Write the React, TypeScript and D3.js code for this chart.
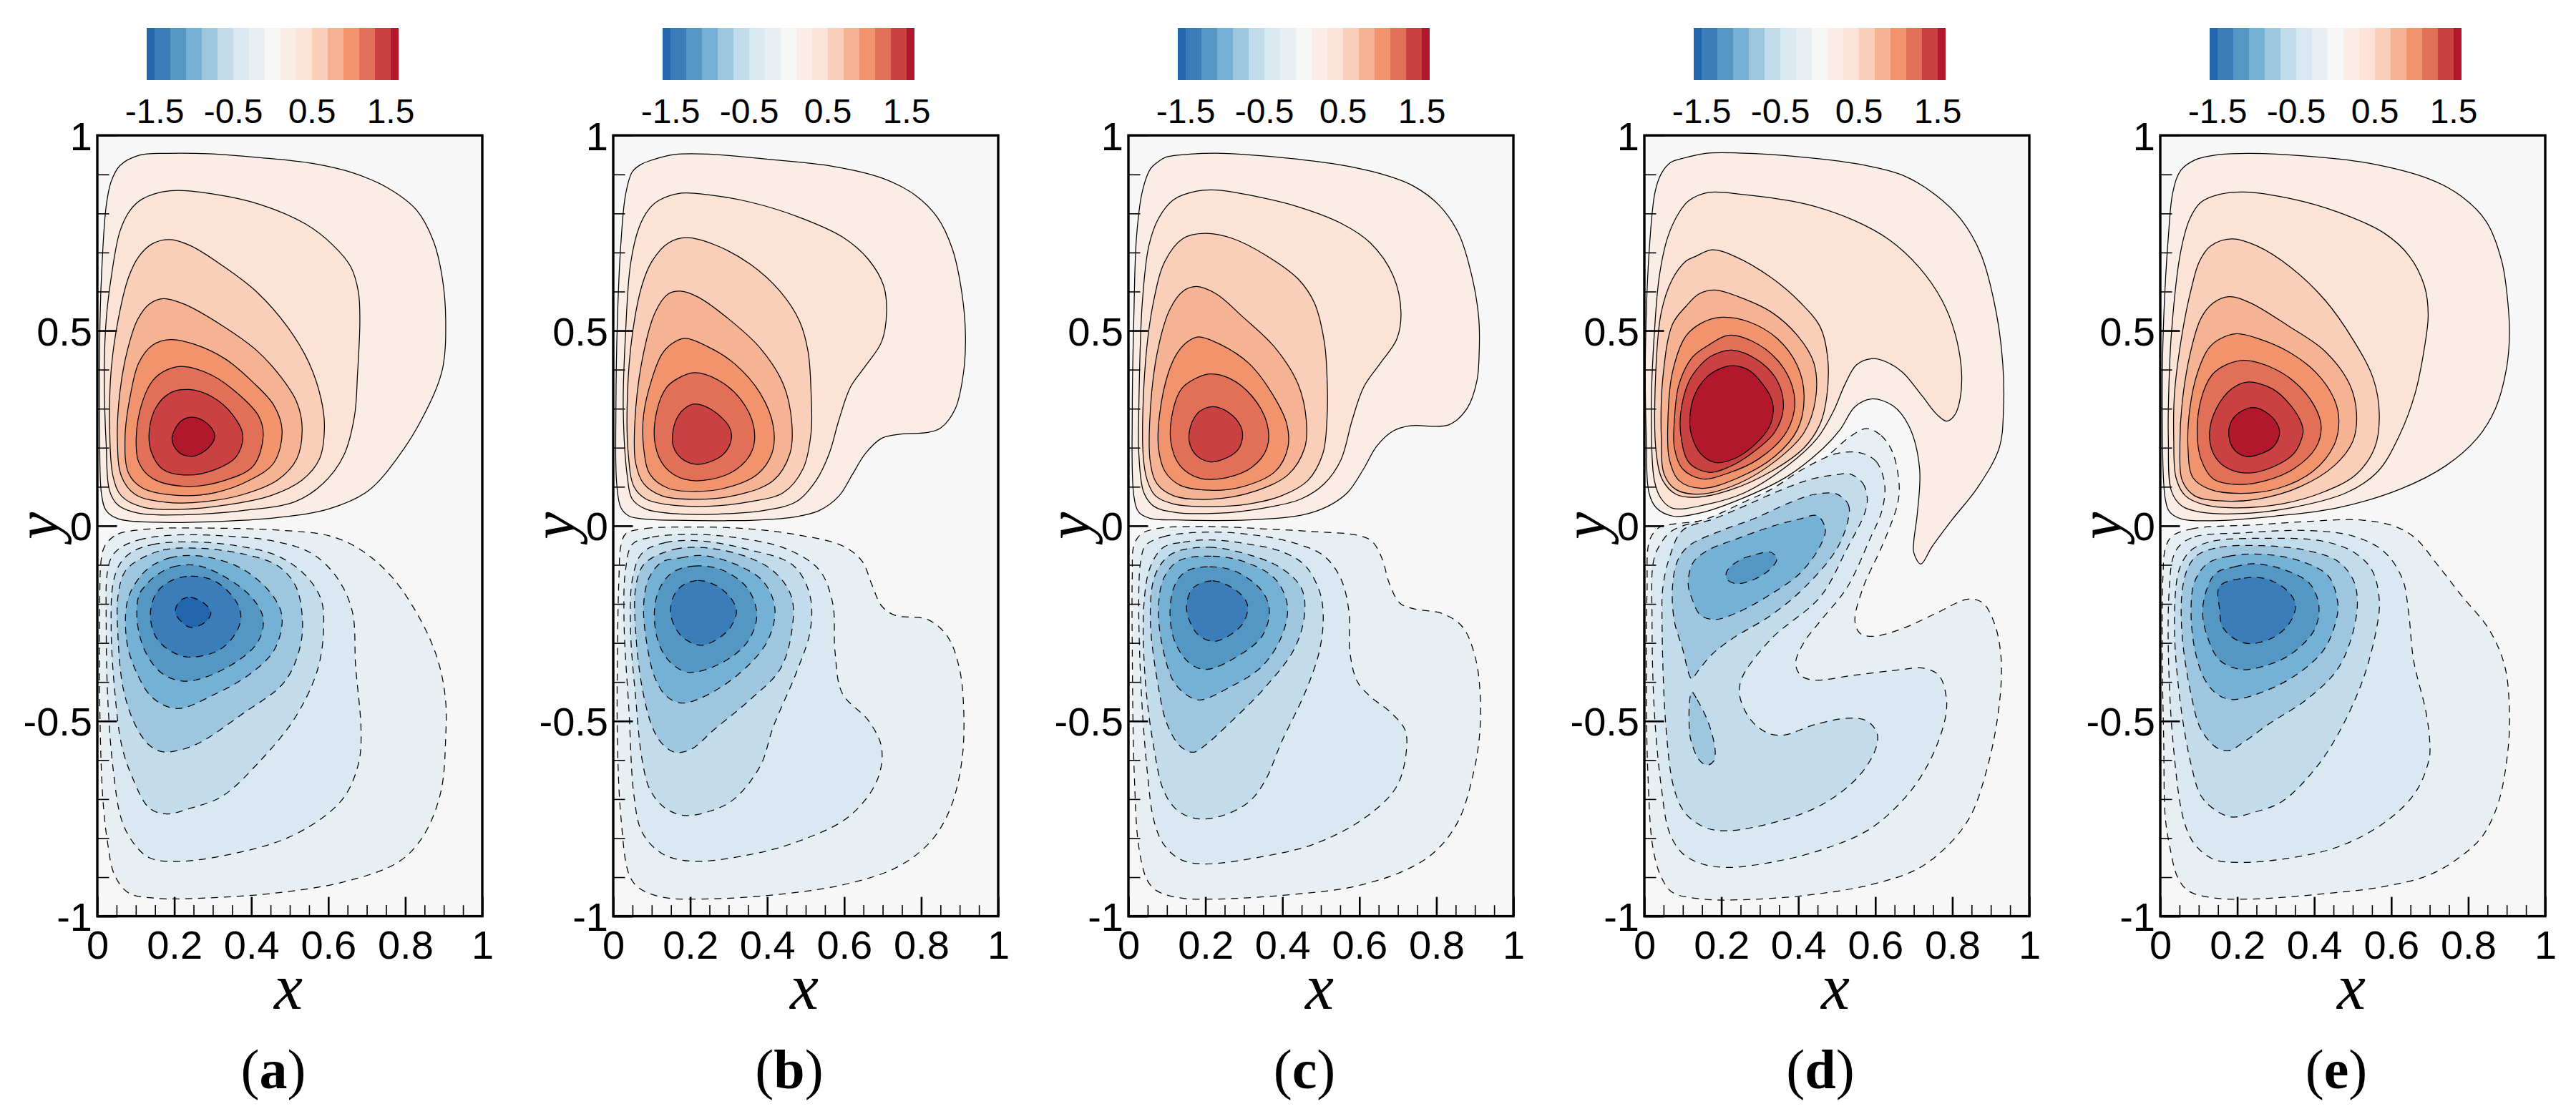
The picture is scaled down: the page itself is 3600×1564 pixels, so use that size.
import { useEffect, useRef } from "react";
import * as d3 from "d3";

type Pt = [number, number];

// Contour rings in data units (x 0..1, y -1..1), outer level first
const contourLevels = [0.1, 0.3, 0.5, 0.7, 0.9, 1.1, 1.3, 1.5];

const panelAPos: Pt[][] = [
  [[.108,.949],[.18,.954],[.288,.953],[.423,.943],[.559,.928],[.667,.903],[.757,.864],[.829,.809],[.874,.727],[.896,.636],[.905,.527],[.896,.399],[.847,.281],[.784,.18],[.703,.089],[.604,.044],[.468,.021],[.288,.01],[.153,.009],[.054,.018],[.023,.039],[.011,.08],[.006,.253],[.007,.527],[.012,.664],[.023,.819],[.036,.882],[.059,.923]],
  [[.117,.837],[.189,.858],[.306,.849],[.423,.823],[.541,.773],[.613,.718],[.658,.664],[.678,.6],[.682,.527],[.676,.39],[.668,.281],[.64,.18],[.586,.108],[.514,.062],[.378,.039],[.216,.028],[.108,.032],[.054,.053],[.032,.089],[.023,.208],[.018,.39],[.023,.527],[.036,.636],[.059,.755],[.086,.809]],
  [[.144,.723],[.189,.733],[.243,.717],[.324,.667],[.414,.599],[.495,.508],[.55,.417],[.581,.326],[.59,.253],[.577,.171],[.532,.117],[.45,.077],[.333,.053],[.216,.042],[.117,.048],[.063,.076],[.041,.126],[.032,.253],[.036,.399],[.054,.527],[.081,.636],[.108,.69]],
  [[.135,.568],[.171,.582],[.225,.568],[.324,.513],[.414,.449],[.477,.381],[.518,.317],[.532,.253],[.518,.171],[.468,.117],[.378,.08],[.279,.062],[.18,.06],[.099,.08],[.063,.126],[.052,.226],[.059,.345],[.077,.445],[.104,.527]],
  [[.144,.463],[.189,.477],[.252,.465],[.333,.427],[.405,.367],[.459,.308],[.48,.244],[.459,.162],[.396,.117],[.306,.085],[.207,.078],[.117,.097],[.081,.135],[.072,.226],[.086,.335],[.108,.418]],
  [[.18,.399],[.225,.408],[.297,.386],[.369,.335],[.419,.281],[.431,.231],[.405,.153],[.333,.117],[.234,.101],[.144,.121],[.108,.162],[.101,.226],[.117,.317],[.144,.372]],
  [[.189,.34],[.239,.349],[.297,.331],[.351,.285],[.378,.231],[.36,.176],[.306,.144],[.234,.13],[.171,.144],[.14,.19],[.135,.244],[.153,.304]],
  [[.216,.267],[.248,.278],[.284,.263],[.305,.231],[.288,.199],[.248,.178],[.212,.188],[.194,.222]],
];

const panelANeg: Pt[][] = [
  [[.027,-.041],[.054,-.021],[.135,-.008],[.288,-.006],[.468,-.011],[.604,-.026],[.685,-.062],[.766,-.132],[.838,-.238],[.883,-.339],[.904,-.44],[.905,-.541],[.892,-.683],[.847,-.794],[.784,-.86],[.649,-.91],[.468,-.94],[.288,-.953],[.153,-.954],[.081,-.94],[.045,-.895],[.027,-.814],[.014,-.693],[.006,-.44],[.006,-.238],[.009,-.097],[.015,-.062]],
  [[.059,-.057],[.108,-.036],[.198,-.024],[.333,-.026],[.468,-.041],[.559,-.072],[.622,-.132],[.662,-.218],[.671,-.36],[.685,-.521],[.68,-.602],[.649,-.683],[.604,-.733],[.495,-.799],[.333,-.844],[.198,-.86],[.135,-.85],[.095,-.814],[.063,-.753],[.041,-.622],[.027,-.44],[.023,-.238],[.025,-.127],[.036,-.082]],
  [[.09,-.067],[.144,-.048],[.234,-.041],[.36,-.051],[.468,-.077],[.541,-.127],[.581,-.188],[.588,-.259],[.572,-.369],[.514,-.491],[.423,-.602],[.324,-.693],[.243,-.723],[.18,-.738],[.135,-.723],[.09,-.642],[.063,-.561],[.045,-.42],[.036,-.268],[.041,-.147],[.059,-.097]],
  [[.108,-.087],[.171,-.062],[.252,-.057],[.378,-.072],[.468,-.102],[.514,-.152],[.532,-.228],[.527,-.309],[.486,-.4],[.378,-.481],[.252,-.562],[.171,-.579],[.135,-.562],[.099,-.511],[.068,-.42],[.054,-.289],[.054,-.178],[.072,-.117]],
  [[.135,-.107],[.189,-.082],[.261,-.077],[.36,-.102],[.432,-.152],[.473,-.208],[.48,-.248],[.459,-.319],[.396,-.38],[.306,-.431],[.207,-.468],[.144,-.441],[.104,-.38],[.077,-.299],[.077,-.198],[.099,-.147]],
  [[.153,-.127],[.198,-.105],[.261,-.102],[.342,-.137],[.405,-.188],[.431,-.238],[.416,-.299],[.342,-.36],[.234,-.398],[.171,-.38],[.126,-.325],[.104,-.248],[.108,-.178],[.126,-.152]],
  [[.189,-.142],[.243,-.129],[.306,-.142],[.36,-.193],[.373,-.233],[.36,-.274],[.315,-.319],[.234,-.336],[.18,-.314],[.149,-.279],[.138,-.223],[.153,-.173]],
  [[.221,-.188],[.243,-.183],[.279,-.2],[.295,-.223],[.279,-.248],[.243,-.26],[.221,-.248],[.203,-.223],[.207,-.203]],
];

const panelBPos: Pt[][] = [
  [[.101,.937],[.16,.951],[.246,.952],[.399,.939],[.569,.921],[.697,.891],[.783,.848],[.842,.79],[.881,.709],[.906,.594],[.915,.486],[.91,.393],[.889,.301],[.851,.251],[.817,.239],[.749,.235],[.697,.224],[.655,.185],[.621,.131],[.587,.077],[.535,.039],[.467,.022],[.356,.014],[.186,.014],[.084,.017],[.041,.025],[.02,.046],[.009,.108],[.007,.301],[.011,.532],[.02,.725],[.032,.848],[.049,.906],[.071,.925]],
  [[.118,.833],[.177,.852],[.246,.848],[.356,.829],[.484,.79],[.595,.74],[.663,.682],[.702,.616],[.71,.547],[.697,.471],[.655,.409],[.616,.355],[.586,.27],[.561,.185],[.527,.116],[.476,.062],[.39,.039],[.271,.03],[.16,.031],[.084,.043],[.049,.069],[.037,.123],[.026,.301],[.032,.493],[.045,.671],[.067,.764],[.092,.81]],
  [[.143,.724],[.19,.738],[.263,.72],[.356,.67],[.433,.601],[.484,.524],[.506,.447],[.514,.339],[.514,.239],[.493,.146],[.442,.085],[.356,.062],[.246,.05],[.143,.054],[.084,.069],[.054,.1],[.039,.185],[.037,.339],[.05,.493],[.075,.617],[.101,.678]],
  [[.143,.594],[.175,.601],[.22,.586],[.297,.532],[.382,.455],[.442,.362],[.464,.262],[.459,.185],[.416,.116],[.331,.081],[.22,.068],[.126,.077],[.079,.108],[.058,.162],[.056,.262],[.075,.424],[.109,.547]],
  [[.152,.466],[.186,.48],[.245,.459],[.314,.416],[.382,.339],[.416,.254],[.412,.185],[.373,.131],[.288,.096],[.211,.088],[.143,.096],[.096,.131],[.079,.2],[.079,.285],[.101,.378],[.126,.439]],
  [[.169,.378],[.211,.392],[.271,.374],[.331,.324],[.365,.254],[.361,.193],[.322,.146],[.254,.119],[.186,.119],[.135,.15],[.109,.208],[.113,.293],[.139,.355]],
  [[.186,.301],[.211,.312],[.256,.297],[.301,.254],[.307,.224],[.288,.185],[.246,.162],[.211,.158],[.177,.173],[.156,.204],[.156,.247],[.169,.282]],
];

const panelBNeg: Pt[][] = [
  [[.033,-.02],[.084,-.007],[.211,-.003],[.356,-.008],[.484,-.024],[.595,-.051],[.646,-.09],[.672,-.151],[.697,-.205],[.731,-.229],[.817,-.24],[.868,-.283],[.898,-.36],[.91,-.46],[.906,-.599],[.876,-.723],[.825,-.808],[.74,-.873],[.612,-.916],[.442,-.943],[.228,-.956],[.126,-.951],[.066,-.927],[.041,-.893],[.02,-.746],[.011,-.553],[.011,-.321],[.015,-.128],[.02,-.051]],
  [[.05,-.047],[.101,-.029],[.211,-.022],[.331,-.032],[.45,-.059],[.535,-.113],[.57,-.198],[.576,-.321],[.595,-.429],[.663,-.499],[.697,-.568],[.685,-.653],[.612,-.745],[.484,-.807],[.356,-.842],[.203,-.859],[.126,-.839],[.075,-.785],[.054,-.692],[.041,-.476],[.028,-.244],[.032,-.113]],
  [[.075,-.07],[.135,-.043],[.228,-.039],[.356,-.062],[.467,-.101],[.51,-.175],[.512,-.267],[.476,-.375],[.416,-.514],[.382,-.615],[.314,-.7],[.254,-.73],[.186,-.742],[.135,-.723],[.096,-.677],[.075,-.599],[.058,-.437],[.045,-.267],[.05,-.136]],
  [[.101,-.082],[.16,-.06],[.22,-.055],[.331,-.074],[.416,-.116],[.463,-.182],[.463,-.275],[.433,-.368],[.356,-.445],[.262,-.522],[.203,-.572],[.16,-.58],[.126,-.557],[.101,-.514],[.075,-.414],[.058,-.267],[.058,-.159],[.075,-.105]],
  [[.126,-.093],[.177,-.082],[.228,-.076],[.314,-.097],[.39,-.143],[.42,-.213],[.399,-.298],[.322,-.383],[.228,-.441],[.177,-.454],[.139,-.437],[.109,-.391],[.088,-.306],[.079,-.205],[.092,-.136]],
  [[.16,-.116],[.211,-.103],[.28,-.112],[.348,-.159],[.373,-.229],[.348,-.298],[.28,-.352],[.194,-.375],[.143,-.344],[.113,-.283],[.109,-.198],[.13,-.144]],
  [[.177,-.155],[.22,-.14],[.271,-.155],[.309,-.19],[.32,-.221],[.305,-.259],[.271,-.29],[.228,-.306],[.186,-.29],[.16,-.259],[.149,-.221],[.156,-.182]],
];

const panelCPos: Pt[][] = [
  [[.1,.945],[.16,.952],[.246,.954],[.4,.943],[.527,.928],[.654,.902],[.739,.871],[.807,.821],[.858,.748],[.892,.64],[.91,.532],[.911,.44],[.905,.37],[.88,.301],[.833,.259],[.731,.256],[.688,.243],[.645,.204],[.611,.146],[.569,.085],[.518,.05],[.449,.027],[.313,.015],[.125,.015],[.057,.019],[.027,.035],[.014,.077],[.01,.301],[.014,.532],[.021,.74],[.036,.856],[.057,.914],[.078,.933]],
  [[.117,.835],[.177,.857],[.228,.86],[.33,.844],[.441,.817],[.552,.775],[.628,.725],[.688,.64],[.708,.547],[.697,.478],[.654,.416],[.611,.355],[.581,.27],[.552,.169],[.509,.108],[.449,.069],[.355,.046],[.228,.032],[.117,.035],[.066,.05],[.04,.085],[.027,.185],[.027,.301],[.036,.571],[.053,.717],[.078,.787]],
  [[.142,.736],[.198,.749],[.27,.736],[.355,.694],[.441,.632],[.483,.571],[.509,.47],[.516,.378],[.516,.278],[.505,.185],[.466,.116],[.398,.077],[.313,.056],[.211,.049],[.117,.056],[.07,.077],[.049,.116],[.038,.185],[.044,.416],[.066,.578],[.095,.678]],
  [[.142,.601],[.177,.613],[.228,.594],[.296,.536],[.382,.455],[.441,.362],[.462,.27],[.458,.2],[.415,.131],[.33,.089],[.211,.068],[.117,.077],[.074,.108],[.057,.162],[.055,.262],[.074,.439],[.108,.555]],
  [[.157,.474],[.181,.484],[.236,.466],[.313,.416],[.373,.339],[.411,.262],[.414,.2],[.381,.139],[.296,.1],[.211,.091],[.134,.104],[.095,.139],[.078,.2],[.081,.285],[.104,.393],[.13,.447]],
  [[.168,.374],[.211,.389],[.262,.378],[.321,.332],[.36,.262],[.36,.2],[.321,.15],[.253,.123],[.185,.122],[.134,.154],[.11,.216],[.117,.301],[.138,.351]],
  [[.185,.293],[.219,.305],[.262,.289],[.292,.254],[.296,.224],[.283,.193],[.245,.17],[.211,.164],[.176,.181],[.158,.216],[.161,.254],[.172,.278]],
];

const panelCNeg: Pt[][] = [
  [[.032,-.022],[.074,-.007],[.211,-.002],[.355,-.008],[.483,-.015],[.594,-.024],[.632,-.039],[.658,-.082],[.679,-.151],[.705,-.198],[.739,-.212],[.816,-.225],[.868,-.259],[.901,-.337],[.914,-.437],[.912,-.537],[.897,-.63],[.858,-.754],[.799,-.832],[.722,-.881],[.586,-.924],[.441,-.943],[.228,-.956],[.134,-.953],[.074,-.935],[.049,-.908],[.027,-.823],[.015,-.63],[.01,-.321],[.01,-.128],[.014,-.051]],
  [[.044,-.051],[.091,-.028],[.211,-.016],[.33,-.024],[.441,-.047],[.509,-.078],[.552,-.136],[.573,-.221],[.575,-.321],[.594,-.398],[.628,-.437],[.679,-.476],[.718,-.522],[.722,-.576],[.696,-.669],[.611,-.75],[.483,-.815],[.355,-.846],[.194,-.866],[.134,-.854],[.091,-.815],[.066,-.754],[.049,-.63],[.032,-.398],[.027,-.167],[.032,-.09]],
  [[.091,-.055],[.142,-.042],[.211,-.036],[.313,-.047],[.398,-.066],[.458,-.101],[.496,-.167],[.506,-.229],[.496,-.321],[.458,-.429],[.398,-.553],[.355,-.653],[.313,-.707],[.245,-.742],[.176,-.75],[.125,-.727],[.091,-.677],[.066,-.568],[.044,-.398],[.04,-.205],[.057,-.105]],
  [[.125,-.066],[.211,-.055],[.313,-.074],[.398,-.109],[.449,-.159],[.458,-.221],[.432,-.313],[.355,-.414],[.262,-.506],[.202,-.56],[.168,-.58],[.134,-.564],[.1,-.507],[.078,-.414],[.057,-.244],[.066,-.136],[.091,-.09]],
  [[.13,-.09],[.219,-.078],[.304,-.093],[.381,-.136],[.413,-.205],[.398,-.283],[.347,-.36],[.262,-.414],[.185,-.446],[.151,-.433],[.117,-.398],[.091,-.321],[.078,-.221],[.091,-.136]],
  [[.151,-.116],[.211,-.105],[.279,-.117],[.347,-.167],[.366,-.217],[.347,-.283],[.279,-.337],[.202,-.368],[.159,-.352],[.121,-.298],[.108,-.221],[.121,-.151]],
  [[.168,-.159],[.219,-.141],[.27,-.159],[.304,-.19],[.31,-.213],[.296,-.252],[.253,-.286],[.219,-.296],[.181,-.279],[.159,-.244],[.151,-.205]],
];

const panelDPos: Pt[][] = [
  [[.099,.941],[.159,.954],[.244,.955],[.415,.944],[.585,.921],[.671,.898],[.756,.848],[.824,.783],[.875,.694],[.914,.547],[.931,.416],[.933,.301],[.922,.2],[.867,.1],[.799,.015],[.747,-.054],[.718,-.098],[.7,-.069],[.7,-.039],[.709,.031],[.715,.146],[.688,.254],[.645,.308],[.59,.325],[.547,.305],[.509,.247],[.466,.2],[.372,.127],[.244,.066],[.142,.032],[.073,.025],[.031,.046],[.012,.085],[.005,.224],[.003,.455],[.014,.725],[.028,.856],[.044,.902],[.069,.931]],
  [[.116,.833],[.167,.854],[.261,.848],[.415,.825],[.543,.783],[.637,.732],[.713,.663],[.773,.578],[.807,.493],[.824,.393],[.82,.324],[.807,.285],[.786,.268],[.76,.285],[.722,.332],[.671,.393],[.628,.42],[.59,.428],[.551,.412],[.521,.362],[.491,.293],[.449,.224],[.372,.154],[.261,.085],[.159,.054],[.073,.045],[.044,.069],[.026,.116],[.018,.301],[.026,.493],[.039,.64],[.061,.74],[.09,.802]],
  [[.133,.69],[.176,.707],[.235,.69],[.329,.636],[.406,.571],[.457,.509],[.476,.432],[.474,.332],[.457,.262],[.415,.2],[.329,.139],[.227,.093],[.133,.073],[.082,.081],[.048,.116],[.031,.185],[.029,.378],[.044,.547],[.073,.632],[.108,.678]],
  [[.142,.594],[.184,.604],[.244,.587],[.329,.548],[.398,.487],[.44,.418],[.445,.326],[.415,.239],[.346,.17],[.244,.108],[.142,.081],[.082,.093],[.052,.131],[.044,.224],[.048,.378],[.073,.516],[.108,.562]],
  [[.15,.52],[.201,.534],[.27,.523],[.346,.479],[.398,.409],[.415,.332],[.398,.247],[.338,.177],[.244,.123],[.15,.096],[.09,.116],[.065,.17],[.061,.262],[.073,.393],[.108,.486]],
  [[.167,.463],[.218,.488],[.278,.474],[.346,.424],[.385,.355],[.389,.293],[.363,.231],[.295,.17],[.218,.135],[.15,.12],[.099,.146],[.078,.2],[.078,.27],[.09,.362],[.125,.432]],
  [[.176,.436],[.227,.45],[.295,.424],[.346,.37],[.361,.301],[.338,.239],[.278,.185],[.218,.15],[.167,.137],[.116,.162],[.095,.231],[.095,.293],[.116,.37],[.146,.412]],
  [[.193,.401],[.231,.41],[.274,.397],[.308,.362],[.329,.328],[.335,.301],[.325,.254],[.287,.208],[.236,.173],[.184,.162],[.146,.185],[.123,.231],[.118,.27],[.129,.331],[.159,.378]],
];

// panel (d) splits one level into two lobes, so the level index is given per ring
const panelDNegLevelIndex = [0, 1, 2, 3, 3, 4, 5];
const panelDNeg: Pt[][] = [
  [[.577,.249],[.615,.231],[.645,.188],[.662,.103],[.658,.057],[.637,-.005],[.611,-.066],[.568,-.159],[.547,-.244],[.56,-.275],[.594,-.283],[.671,-.263],[.756,-.225],[.841,-.188],[.88,-.198],[.91,-.252],[.925,-.321],[.927,-.398],[.914,-.514],[.888,-.63],[.85,-.738],[.799,-.808],[.713,-.877],[.585,-.92],[.415,-.947],[.244,-.958],[.15,-.956],[.073,-.939],[.044,-.9],[.022,-.823],[.009,-.63],[.005,-.398],[.007,-.167],[.014,-.036],[.039,-.004],[.073,.004],[.159,.015],[.244,.042],[.329,.081],[.415,.131],[.483,.185],[.534,.228]],
  [[.56,.187],[.602,.165],[.624,.108],[.618,.042],[.585,-.036],[.526,-.159],[.457,-.244],[.415,-.298],[.393,-.352],[.406,-.383],[.44,-.395],[.543,-.383],[.671,-.368],[.722,-.364],[.765,-.383],[.784,-.437],[.782,-.491],[.747,-.591],[.688,-.684],[.585,-.777],[.457,-.831],[.329,-.862],[.218,-.875],[.15,-.866],[.099,-.839],[.065,-.785],[.044,-.669],[.026,-.476],[.02,-.244],[.024,-.09],[.044,-.043],[.073,-.012],[.176,.023],[.261,.062],[.329,.093],[.415,.147],[.5,.185]],
  [[.534,.133],[.568,.108],[.579,.07],[.573,.034],[.526,-.059],[.457,-.182],[.329,-.29],[.253,-.391],[.248,-.437],[.278,-.499],[.321,-.531],[.363,-.536],[.44,-.51],[.526,-.493],[.577,-.499],[.604,-.53],[.602,-.568],[.56,-.638],[.474,-.707],[.372,-.75],[.218,-.781],[.159,-.773],[.108,-.738],[.078,-.676],[.056,-.514],[.046,-.244],[.048,-.159],[.065,-.082],[.099,-.012],[.184,.019],[.261,.051],[.346,.088],[.432,.119],[.5,.131]],
  [[.5,.081],[.53,.054],[.53,.019],[.5,-.059],[.415,-.159],[.329,-.229],[.227,-.29],[.176,-.329],[.137,-.375],[.123,-.392],[.099,-.314],[.078,-.244],[.073,-.159],[.086,-.09],[.116,-.051],[.201,-.012],[.287,.019],[.372,.057],[.44,.08]],
  [[.123,-.425],[.137,-.445],[.167,-.506],[.184,-.576],[.18,-.603],[.163,-.613],[.142,-.599],[.12,-.545],[.116,-.491],[.118,-.445]],
  [[.449,.026],[.47,-.008],[.457,-.051],[.406,-.12],[.329,-.175],[.244,-.221],[.184,-.24],[.146,-.229],[.125,-.19],[.114,-.151],[.125,-.097],[.159,-.066],[.244,-.032],[.346,.003],[.406,.018]],
  [[.329,-.068],[.344,-.086],[.321,-.116],[.278,-.14],[.236,-.148],[.214,-.136],[.214,-.117],[.244,-.09],[.287,-.074]],
];

const panelEPos: Pt[][] = [
  [[.09,.937],[.154,.951],[.235,.954],[.379,.947],[.54,.929],[.702,.887],[.782,.844],[.847,.779],[.887,.678],[.903,.571],[.907,.486],[.899,.401],[.871,.301],[.823,.224],[.742,.154],[.621,.093],[.46,.046],[.299,.025],[.138,.013],[.057,.017],[.025,.035],[.013,.069],[.005,.301],[.009,.532],[.021,.74],[.033,.856],[.053,.91]],
  [[.106,.829],[.154,.849],[.218,.855],[.339,.838],[.46,.804],[.581,.75],[.646,.692],[.686,.615],[.696,.54],[.686,.455],[.662,.339],[.621,.231],[.565,.139],[.484,.085],[.339,.046],[.202,.031],[.106,.035],[.057,.05],[.029,.089],[.021,.224],[.021,.301],[.029,.493],[.053,.702],[.077,.787]],
  [[.131,.717],[.186,.735],[.251,.717],[.339,.662],[.428,.578],[.5,.478],[.553,.378],[.569,.285],[.557,.2],[.508,.131],[.42,.085],[.315,.056],[.194,.046],[.114,.054],[.065,.077],[.041,.123],[.035,.224],[.037,.339],[.057,.493],[.081,.609],[.102,.678]],
  [[.138,.571],[.178,.587],[.234,.571],[.331,.513],[.428,.447],[.492,.362],[.51,.285],[.5,.216],[.452,.154],[.363,.1],[.251,.068],[.154,.064],[.089,.077],[.057,.116],[.051,.2],[.057,.316],[.081,.455],[.106,.532]],
  [[.154,.478],[.198,.492],[.259,.478],[.331,.447],[.404,.393],[.452,.324],[.464,.27],[.452,.208],[.396,.139],[.307,.096],[.21,.083],[.13,.093],[.085,.123],[.072,.2],[.077,.301],[.097,.393],[.126,.455]],
  [[.17,.412],[.218,.424],[.283,.408],[.347,.37],[.4,.308],[.418,.254],[.404,.2],[.347,.146],[.275,.116],[.202,.106],[.138,.12],[.106,.17],[.096,.239],[.106,.324],[.134,.386]],
  [[.186,.351],[.226,.368],[.291,.351],[.339,.308],[.367,.262],[.371,.239],[.347,.185],[.291,.15],[.226,.135],[.17,.15],[.138,.185],[.128,.239],[.146,.301]],
  [[.21,.293],[.243,.303],[.283,.285],[.307,.254],[.309,.231],[.291,.2],[.251,.181],[.226,.177],[.194,.193],[.178,.231],[.186,.27]],
];

const panelENeg: Pt[][] = [
  [[.029,-.028],[.081,-.008],[.259,.003],[.379,.011],[.517,.015],[.605,0],[.662,-.031],[.718,-.097],[.782,-.178],[.855,-.267],[.895,-.36],[.907,-.476],[.903,-.576],[.879,-.707],[.839,-.792],[.791,-.839],[.702,-.893],[.581,-.924],[.42,-.943],[.235,-.956],[.138,-.953],[.073,-.935],[.045,-.9],[.025,-.823],[.013,-.746],[.009,-.553],[.005,-.321],[.007,-.128],[.013,-.059]],
  [[.05,-.051],[.089,-.028],[.218,-.018],[.38,-.012],[.5,-.026],[.581,-.066],[.629,-.136],[.645,-.221],[.658,-.344],[.69,-.476],[.7,-.553],[.698,-.599],[.662,-.684],[.581,-.761],[.46,-.823],[.315,-.854],[.202,-.862],[.138,-.854],[.089,-.815],[.061,-.754],[.033,-.553],[.021,-.321],[.023,-.167],[.033,-.082]],
  [[.085,-.059],[.138,-.039],[.267,-.032],[.42,-.039],[.5,-.066],[.549,-.112],[.569,-.19],[.561,-.267],[.525,-.398],[.46,-.537],[.396,-.63],[.315,-.707],[.243,-.734],[.186,-.746],[.146,-.73],[.106,-.692],[.081,-.615],[.053,-.46],[.037,-.267],[.045,-.128],[.061,-.086]],
  [[.098,-.074],[.154,-.055],[.267,-.051],[.38,-.063],[.46,-.09],[.5,-.136],[.512,-.19],[.5,-.275],[.46,-.368],[.38,-.445],[.283,-.507],[.218,-.553],[.178,-.576],[.146,-.568],[.106,-.522],[.081,-.437],[.057,-.283],[.057,-.167],[.073,-.105]],
  [[.122,-.097],[.178,-.078],[.267,-.073],[.363,-.09],[.436,-.128],[.46,-.19],[.46,-.228],[.428,-.313],[.363,-.375],[.275,-.422],[.186,-.445],[.146,-.43],[.114,-.391],[.089,-.313],[.08,-.213],[.089,-.144]],
  [[.146,-.12],[.194,-.105],[.243,-.097],[.323,-.113],[.388,-.148],[.412,-.205],[.4,-.267],[.339,-.329],[.267,-.36],[.21,-.368],[.154,-.344],[.122,-.283],[.11,-.221],[.122,-.159]],
  [[.154,-.155],[.218,-.134],[.275,-.136],[.331,-.167],[.351,-.202],[.339,-.244],[.299,-.283],[.234,-.302],[.194,-.29],[.162,-.259],[.154,-.213]],
];

const captions = ["a", "b", "c", "d", "e"];
const positiveRings = [panelAPos, panelBPos, panelCPos, panelDPos, panelEPos];
const negativeRings = [panelANeg, panelBNeg, panelCNeg, panelDNeg, panelENeg];

// colour bar: one band between each pair of levels
const bandEdges = [-1.6, -1.5, -1.3, -1.1, -0.9, -0.7, -0.5, -0.3, -0.1, 0.1, 0.3, 0.5, 0.7, 0.9, 1.1, 1.3, 1.5, 1.6];
const bandColors = ["#2166ac", "#3a7db8", "#5497c3", "#75b1d4", "#9ec7df", "#c3dceb", "#dae8f1", "#e8eff3", "#f7f7f7", "#f9ede6", "#fbe3d6", "#facfba", "#f6b394", "#f1936d", "#e26f57", "#ca4141", "#b2182b"];
const colorTicks = [-1.5, -0.5, 0.5, 1.5];

const xMajor = [0, 0.2, 0.4, 0.6, 0.8, 1];
const xMinor = [0.05, 0.1, 0.15, 0.25, 0.3, 0.35, 0.45, 0.5, 0.55, 0.65, 0.7, 0.75, 0.85, 0.9, 0.95];
const yMajor = [-1, -0.5, 0, 0.5, 1];
const yMinor = [-0.9, -0.8, -0.7, -0.6, -0.4, -0.3, -0.2, -0.1, 0.1, 0.2, 0.3, 0.4, 0.6, 0.7, 0.8, 0.9];

const panelLefts = [136, 857, 1577, 2298, 3019];
const SANS = "'Liberation Sans', Arial, sans-serif";
const SERIF = "'Liberation Serif', 'Times New Roman', serif";

export default function App() {
  const svgRef = useRef<SVGSVGElement>(null);

  useEffect(() => {
    if (!svgRef.current) return;
    const svg = d3.select(svgRef.current);
    svg.selectAll("*").remove();

    const panelWidth = 538;
    const top = 189.2;
    const bottom = 1280.6;

    const x = d3.scaleLinear().domain([0, 1]).range([0, panelWidth]);
    const y = d3.scaleLinear().domain([-1, 1]).range([bottom, top]);
    const colorBar = d3.scaleLinear().domain([-1.6, 1.6]).range([69, 421]);
    const color = d3
      .scaleThreshold<number, string>()
      .domain(bandEdges.slice(1, -1))
      .range(bandColors);

    const ring = d3
      .line<Pt>()
      .x((d) => x(d[0]))
      .y((d) => y(d[1]))
      .curve(d3.curveCatmullRomClosed.alpha(0.5));

    panelLefts.forEach((left, p) => {
      const g = svg.append("g").attr("transform", `translate(${left},0)`);
      const clipId = `frame-${p}`;
      g.append("clipPath")
        .attr("id", clipId)
        .append("rect")
        .attr("x", 0)
        .attr("y", top)
        .attr("width", panelWidth)
        .attr("height", bottom - top);

      g.append("rect")
        .attr("x", 0)
        .attr("y", top)
        .attr("width", panelWidth)
        .attr("height", bottom - top)
        .attr("fill", color(0));

      const plot = g.append("g").attr("clip-path", `url(#${clipId})`);

      // Filled contours, outermost first
      positiveRings[p].forEach((pts, i) => {
        const level = contourLevels[i];
        plot
          .append("path")
          .attr("d", ring(pts))
          .attr("fill", color(level + 0.1))
          .attr("stroke", "#000")
          .attr("stroke-width", 1.25);
      });
      negativeRings[p].forEach((pts, i) => {
        const level = contourLevels[p === 3 ? panelDNegLevelIndex[i] : i];
        plot
          .append("path")
          .attr("d", ring(pts))
          .attr("fill", color(-level - 0.1))
          .attr("stroke", "#000")
          .attr("stroke-width", 1.25)
          .attr("stroke-dasharray", "10 8");
      });

      // Colour bar
      g.append("g")
        .selectAll("rect")
        .data(bandColors)
        .join("rect")
        .attr("x", (_, i) => colorBar(bandEdges[i]))
        .attr("y", 38.8)
        .attr("width", (_, i) => colorBar(bandEdges[i + 1]) - colorBar(bandEdges[i]))
        .attr("height", 73.2)
        .attr("fill", (d) => d)
        .attr("shape-rendering", "crispEdges");

      g.append("g")
        .selectAll("text")
        .data(colorTicks)
        .join("text")
        .attr("x", (d) => colorBar(d))
        .attr("y", 171.6)
        .attr("text-anchor", "middle")
        .attr("font-family", SANS)
        .attr("font-size", 48)
        .attr("fill", "#000")
        .text((d) => String(d));

      // Axes, ticks pointing inward
      const xMinorAxis = g
        .append("g")
        .attr("transform", `translate(0,${bottom})`)
        .call(d3.axisBottom(x).tickValues(xMinor).tickSize(-15.5).tickFormat(() => ""));
      xMinorAxis.select(".domain").remove();
      xMinorAxis.selectAll("line").attr("stroke-width", 1.6);

      const xMajorAxis = g
        .append("g")
        .attr("transform", `translate(0,${bottom})`)
        .call(d3.axisBottom(x).tickValues(xMajor).tickSize(-27).tickFormat((d) => String(d)));
      xMajorAxis.select(".domain").remove();
      xMajorAxis.selectAll("line").attr("stroke-width", 2.6);
      xMajorAxis
        .selectAll("text")
        .attr("y", 59.5)
        .attr("dy", 0)
        .attr("font-family", SANS)
        .attr("font-size", 56)
        .attr("fill", "#000");

      const yMinorAxis = g
        .append("g")
        .call(d3.axisLeft(y).tickValues(yMinor).tickSize(-16.5).tickFormat(() => ""));
      yMinorAxis.select(".domain").remove();
      yMinorAxis.selectAll("line").attr("stroke-width", 1.6);

      const yMajorAxis = g
        .append("g")
        .call(d3.axisLeft(y).tickValues(yMajor).tickSize(-27.5).tickFormat((d) => String(d)));
      yMajorAxis.select(".domain").remove();
      yMajorAxis.selectAll("line").attr("stroke-width", 2.6);
      yMajorAxis
        .selectAll("text")
        .attr("x", -7)
        .attr("dy", 20)
        .attr("font-family", SANS)
        .attr("font-size", 56)
        .attr("fill", "#000");

      g.append("rect")
        .attr("x", 0)
        .attr("y", top)
        .attr("width", panelWidth)
        .attr("height", bottom - top)
        .attr("fill", "none")
        .attr("stroke", "#000")
        .attr("stroke-width", 3.4);

      // Axis titles and caption
      g.append("text")
        .attr("x", 267)
        .attr("y", 1410)
        .attr("text-anchor", "middle")
        .attr("font-family", SERIF)
        .attr("font-style", "italic")
        .attr("font-size", 90)
        .attr("fill", "#000")
        .text("x");

      g.append("text")
        .attr("transform", `translate(-55,${y(0)}) rotate(-90)`)
        .attr("text-anchor", "middle")
        .attr("font-family", SERIF)
        .attr("font-style", "italic")
        .attr("font-size", 86)
        .attr("fill", "#000")
        .text("y");

      const caption = g
        .append("text")
        .attr("x", 246)
        .attr("y", 1521)
        .attr("text-anchor", "middle")
        .attr("font-family", SERIF)
        .attr("font-size", 78)
        .attr("fill", "#000");
      caption.append("tspan").text("(");
      caption.append("tspan").attr("font-weight", "bold").text(captions[p]);
      caption.append("tspan").text(")");
    });
  }, []);

  return (
    <svg
      ref={svgRef}
      width={3600}
      height={1564}
      style={{ position: "absolute", left: 0, top: 0, display: "block", background: "#fff" }}
    />
  );
}
